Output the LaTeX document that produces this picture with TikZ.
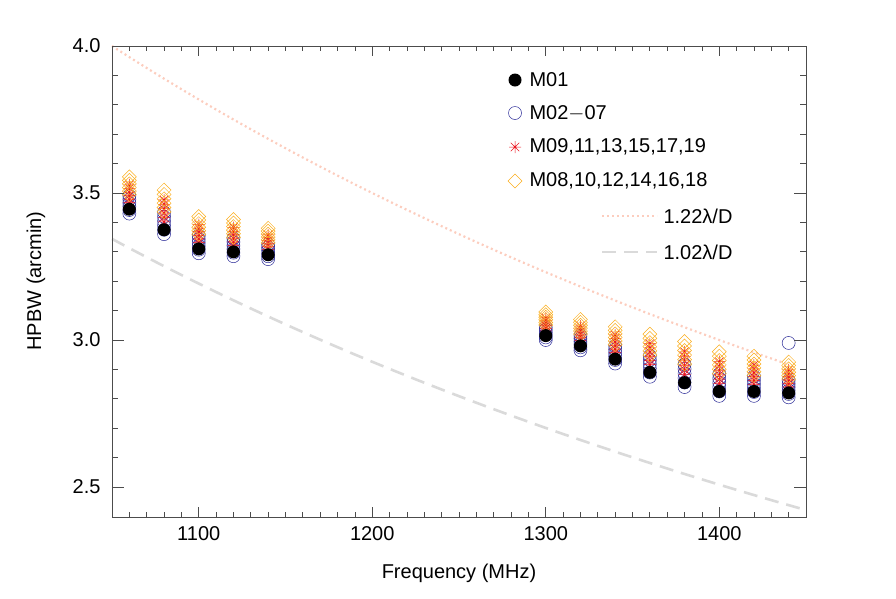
\documentclass[tikz,border=0pt]{standalone}
\usepackage{fontspec}
\setmainfont{Liberation Sans}
\definecolor{dotc}{RGB}{252,205,190}
\definecolor{dashc}{RGB}{218,218,218}
\definecolor{bluec}{RGB}{40,40,150}
\definecolor{redc}{RGB}{235,20,30}
\definecolor{orc}{RGB}{250,175,30}
\tikzset{
 tk/.style={line width=0.8pt,black!70},
 lab/.style={font=\fontsize{20}{24}\selectfont},
 leg/.style={font=\fontsize{20}{24}\selectfont,anchor=west},
 dotl/.style={dotc,line width=2.2pt,dash pattern=on 2pt off 3pt},
 dashl/.style={dashc,line width=2.6pt,dash pattern=on 14pt off 8pt},
}
\newcommand{\pX}[1]{(112+((#1)-1050)*1.735)}
\newcommand{\pY}[1]{(46+(4.0-(#1))*294)}
\newcommand{\mkBlack}[2]{\fill[black] (#1,#2) circle (6.5);}
\newcommand{\mkBlue}[2]{\draw[bluec,line width=0.5pt] (#1,#2) circle (6.5);}
\newcommand{\mkRed}[2]{\draw[redc,line width=0.5pt] (#1-6,#2)--(#1+6,#2) (#1,#2-6)--(#1,#2+6) (#1-4.3,#2-4.3)--(#1+4.3,#2+4.3) (#1-4.3,#2+4.3)--(#1+4.3,#2-4.3);}
\newcommand{\mkOr}[2]{\draw[orc,line width=0.5pt] (#1-7,#2)--(#1,#2-7)--(#1+7,#2)--(#1,#2+7)--cycle;}
\begin{document}
\begin{tikzpicture}[x=1pt,y=-1pt]
\useasboundingbox (0,0) rectangle (896,598);
% curves
\draw[dotl] plot[domain=1050:1440,samples=80,smooth] ({112+(\x-1050)*1.735},{46+(4.0-4.0*1050/\x)*294});
\draw[dashl] plot[domain=1050:1450,samples=80,smooth] ({112+(\x-1050)*1.735},{46+(4.0-3.344*1050/\x)*294});
% data
\foreach \f/\b/\t in {1060/3.445/3.555,1080/3.375/3.51,1100/3.31/3.42,1120/3.30/3.41,1140/3.29/3.38,1300/3.015/3.095,1320/2.98/3.07,1340/2.935/3.045,1360/2.89/3.02,1380/2.855/2.995,1400/2.825/2.96,1420/2.825/2.945,1440/2.82/2.925}{
  \pgfmathsetmacro{\xx}{\pX{\f}}
  \foreach \k in {0,...,5}{
    \pgfmathsetmacro{\yy}{\pY{\b-0.015+(\t-\b)*0.55*\k/5}}
    \mkBlue{\xx}{\yy}
  }
  \foreach \k in {0,...,5}{
    \pgfmathsetmacro{\yy}{\pY{\b+(\t-\b)*(0.2+0.55*\k/5)}}
    \mkRed{\xx}{\yy}
  }
  \foreach \k in {0,...,5}{
    \pgfmathsetmacro{\yy}{\pY{\b+(\t-\b)*(0.45+0.55*\k/5)}}
    \mkOr{\xx}{\yy}
  }
  \pgfmathsetmacro{\yy}{\pY{\b}}
  \mkBlack{\xx}{\yy}
}
\pgfmathsetmacro{\xx}{\pX{1440}}\pgfmathsetmacro{\yy}{\pY{2.99}}
\mkBlue{\xx}{\yy}
% frame
\draw[tk] (112,46) rectangle (806,517);
\foreach \f in {1060,1070,...,1440}{
  \pgfmathsetmacro{\xx}{\pX{\f}}
  \draw[tk] (\xx,517)--(\xx,512) (\xx,46)--(\xx,51);
}
\foreach \f in {1100,1200,1300,1400}{
  \pgfmathsetmacro{\xx}{\pX{\f}}
  \draw[tk] (\xx,517)--(\xx,507) (\xx,46)--(\xx,56);
  \node[lab,anchor=north] (xl\f) at (\xx,523) {\f};
}
\foreach \h in {2.5,2.6,...,3.95}{
  \pgfmathsetmacro{\yy}{\pY{\h}}
  \draw[tk] (112,\yy)--(118,\yy) (806,\yy)--(800,\yy);
}
\foreach \h/\s in {2.5/2.5,3.0/3.0,3.5/3.5,4.0/4.0}{
  \pgfmathsetmacro{\yy}{\pY{\h}}
  \draw[tk] (112,\yy)--(124,\yy) (806,\yy)--(794,\yy);
  \node[lab,anchor=east] (yl\s) at (104,\yy) {\s};
}
\node[lab] (xlab) at (459,573) {Frequency (MHz)};
\node[lab,rotate=90] (ylab) at (36,281) {HPBW (arcmin)};
% legend
\mkBlack{515}{80}
\node[leg] (l1) at (526,80) {M01};
\mkBlue{515}{113}
\node[leg] (l2) at (526,113) {M02$-$07};
\mkRed{515}{147}
\node[leg] (l3) at (526,147) {M09,11,13,15,17,19};
\mkOr{515}{181}
\node[leg] (l4) at (526,181) {M08,10,12,14,16,18};
\draw[dotl] (602,216)--(657,216);
\node[leg] (l5) at (660,216) {1.22λ/D};
\draw[dashl] (602,252)--(657,252);
\node[leg] (l6) at (660,252) {1.02λ/D};
\end{tikzpicture}
\end{document}
